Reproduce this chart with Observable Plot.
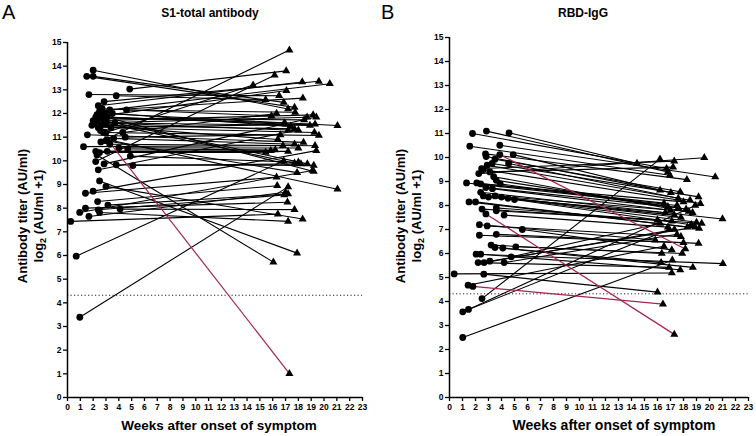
<!DOCTYPE html>
<html>
<head>
<meta charset="utf-8">
<script src="https://cdn.jsdelivr.net/npm/d3@7"></script>
<script src="https://cdn.jsdelivr.net/npm/@observablehq/plot@0.6"></script>
<style>
  html, body { margin: 0; padding: 0; background: #fff; }
  #wrap { display: flex; width: 756px; height: 436px; }
  svg { display: block; }
</style>
</head>
<body>
<div id="wrap"></div>
<script>
// ---------- Panel A: S1-total antibody ----------
const s1StartWeek  = [2.0,1.5,2.0,1.67,3.8,4.85,2.4,2.85,2.5,2.7,3.3,4.6,2.3,2.1,2.5,2.9,2.4,3.1,3.5,2.6,3.0,2.2,3.4,2.8,3.0,1.55,3.6,1.25,3.3,3.0,4.0,2.2,2.5,3.1,4.7,2.6,2.2,2.3,0.68,0.96,4.9,2.85,3.8,5.1,2.3,2.5,3.0,1.4,2.0,2.35,3.15,4.1,1.4,0.95,2.4,2.5,0.25,1.67,2.57,4.3,3.7,4.5,2.7,1.9,2.4,2.85,3.1,2.0];
const s1StartTiter = [13.83,13.57,13.57,12.8,12.75,13.03,12.33,12.5,12.1,11.9,12.15,12.15,11.7,11.6,11.8,12.0,11.4,11.85,12.0,11.5,11.6,11.85,11.4,11.2,11.2,11.1,10.95,10.6,10.7,10.85,10.55,10.4,10.35,10.4,10.5,10.8,9.97,10.25,5.97,3.39,10.2,11.7,9.83,9.8,11.95,9.15,8.92,8.63,8.72,8.28,8.13,7.96,8.0,7.82,7.93,7.82,7.44,7.65,11.28,11.2,11.6,11.0,12.2,11.5,9.62,9.87,10.9,11.7];
const s1EndWeek    = [17.2,17.7,16.86,16.5,15.45,17.05,18.3,19.6,20.45,17.07,18.35,17.75,19.15,18.68,18.45,21.05,19.3,17.0,17.4,17.7,17.2,16.9,19.25,19.6,14.47,18.4,17.7,16.8,19.3,17.9,18.0,17.2,15.45,15.85,16.2,17.3,16.15,16.05,16.86,17.2,18.0,18.7,19.2,18.2,19.2,17.9,18.33,16.3,19.4,16.35,17.2,17.7,17.15,19.1,16.9,17.2,16.4,17.0,17.3,16.3,18.9,16.6,15.9,16.4,18.0,19.4,21.05,17.7];
const s1EndTiter   = [12.19,12.26,12.47,12.75,12.58,13.8,13.33,13.36,13.26,12.97,12.65,12.05,11.94,11.84,11.73,11.49,11.55,11.55,11.45,11.35,11.3,11.6,11.2,11.07,13.2,10.78,10.7,10.64,10.64,9.5,10.54,10.4,10.36,10.43,10.46,14.68,13.62,5.72,10.0,8.9,9.94,9.87,9.81,9.87,9.55,6.1,7.54,9.31,10.43,8.95,8.6,7.94,8.25,9.59,8.56,7.44,7.75,8.67,1.01,12.0,11.5,11.1,11.9,10.9,11.3,11.85,8.8,9.9];
const s1Red = [58];

// ---------- Panel B: RBD-IgG ----------
const rbdStartWeek  = [1.77,2.84,4.58,1.56,3.87,2.77,2.82,4.9,3.5,3.28,2.9,2.6,2.47,2.25,4.55,1.31,2.1,2.4,2.8,3.3,3.6,2.4,2.6,3.0,3.5,4.0,4.5,5.0,1.5,2.0,2.5,3.6,3.6,4.2,2.3,2.9,2.3,3.6,5.6,3.2,3.5,4.1,5.1,2.05,2.4,2.2,2.66,3.1,4.2,4.75,0.36,2.64,1.8,1.43,2.5,1.46,1.02,1.02,2.8,3.87,3.1,3.4,3.9];
const rbdStartTiter = [11.0,11.1,11.03,10.47,10.51,10.15,10.04,10.12,9.93,9.75,9.68,9.5,9.54,9.33,9.75,8.94,8.94,8.9,8.75,8.7,9.05,8.55,8.4,8.35,8.4,8.35,8.3,8.25,8.15,8.15,7.85,7.9,7.78,7.6,7.2,7.15,6.76,6.8,7.0,6.35,6.25,6.23,6.28,5.97,5.97,5.62,5.62,5.68,5.62,5.86,5.15,5.14,4.63,4.68,4.12,3.67,3.57,2.5,7.65,10.12,9.4,9.2,8.9];
const rbdEndWeek    = [16.7,16.8,14.42,16.95,20.44,18.26,16.2,17.03,17.75,19.16,18.5,19.3,17.29,19.6,17.6,17.5,16.5,18.0,16.8,17.0,18.2,21.0,17.3,16.6,18.4,17.8,19.0,18.6,19.2,18.3,16.0,19.4,17.1,16.8,15.83,17.8,18.0,19.16,17.1,16.33,18.72,16.28,17.9,21.03,17.75,16.9,17.3,18.9,17.5,16.2,17.1,16.0,16.42,16.5,16.19,18.9,16.9,17.14,17.29,18.14,17.2,18.7,17.6];
const rbdEndTiter   = [9.54,9.4,9.75,9.26,9.19,9.08,8.64,8.53,8.57,8.36,8.22,8.08,9.85,9.99,8.3,8.0,8.1,8.15,7.95,7.8,7.85,7.44,7.6,7.7,7.75,7.5,7.3,7.2,7.05,7.1,7.4,7.25,7.35,7.1,6.56,6.7,6.45,6.42,6.15,6.0,5.42,5.62,6.0,5.58,5.32,5.42,7.0,7.1,6.8,7.25,5.19,4.39,3.89,6.3,9.93,8.0,7.0,5.72,2.63,6.19,9.6,7.7,7.9];
const rbdRed = [52, 58, 59];

// ---------- axes ----------
const weekTicks  = d3.range(0, 24);
const titerTicks = d3.range(0, 16);
const cutoff = 4.32;

const panels = [
  {letter: "A", title: "S1-total antibody", sw: s1StartWeek, st: s1StartTiter, ew: s1EndWeek, et: s1EndTiter, red: s1Red,
   m: {l: 67, r: 16, t: 42, b: 39}, titleX: 210, letterX: 2, yl1: 23, yl2: 39, xlX: 219, xlSize: 13.5},
  {letter: "B", title: "RBD-IgG", sw: rbdStartWeek, st: rbdStartTiter, ew: rbdEndWeek, et: rbdEndTiter, red: rbdRed,
   m: {l: 71, r: 8, t: 37, b: 39}, titleX: 205, letterX: 3, yl1: 23, yl2: 39, xlX: 236, xlSize: 14}
];

const font = "'Liberation Sans', Arial, Helvetica, sans-serif";
const wrap = document.getElementById("wrap");

for (const p of panels) {
  const rows = p.sw.map((w, i) => ({w0: w, t0: p.st[i], w1: p.ew[i], t1: p.et[i], red: p.red.includes(i)}));
  const chart = Plot.plot({
    width: 378, height: 436,
    marginLeft: p.m.l, marginRight: p.m.r, marginTop: p.m.t, marginBottom: p.m.b,
    style: {fontFamily: font, fontSize: "8.5px", fontWeight: "bold", color: "black", background: "white"},
    x: {domain: [0, 23]},
    y: {domain: [0, 15]},
    marks: [
      Plot.axisX({ticks: weekTicks, tickFormat: d => d, tickSize: 4, tickPadding: 2, label: null, strokeWidth: 1.3}),
      Plot.axisY({ticks: titerTicks, tickFormat: d => d, tickSize: 4, tickPadding: 2, label: null, strokeWidth: 1.3}),
      Plot.ruleY([cutoff], {stroke: "#222", strokeWidth: 1, strokeDasharray: "1.2,2.3"}),
      Plot.link(rows.filter(d => !d.red), {x1: "w0", y1: "t0", x2: "w1", y2: "t1", stroke: "black", strokeWidth: 1.1}),
      Plot.link(rows.filter(d => d.red), {x1: "w0", y1: "t0", x2: "w1", y2: "t1", stroke: "#a3264f", strokeWidth: 1.2}),
      Plot.dot(rows, {x: "w0", y: "t0", symbol: "circle", r: 3.4, fill: "black", stroke: "none"}),
      Plot.dot(rows, {x: "w1", y: "t1", symbol: "triangle", r: 3.0, fill: "black", stroke: "none"}),
      Plot.ruleX([0], {stroke: "black", strokeWidth: 1.5}),
      Plot.ruleY([0], {stroke: "black", strokeWidth: 1.5})
    ]
  });
  const svg = d3.select(chart);
  svg.append("text").attr("x", p.letterX).attr("y", 19).attr("text-anchor", "start")
    .attr("font-family", font).attr("font-size", 20).attr("font-weight", "normal").attr("fill", "black").text(p.letter);
  svg.append("text").attr("x", p.titleX).attr("y", 17).attr("text-anchor", "middle")
    .attr("font-family", font).attr("font-size", 12).attr("font-weight", "bold").attr("fill", "black").text(p.title);
  svg.append("text").attr("x", p.xlX).attr("y", 430).attr("text-anchor", "middle")
    .attr("font-family", font).attr("font-size", p.xlSize).attr("font-weight", "bold").attr("fill", "black")
    .text("Weeks after onset of symptom");
  const cy = 216;
  svg.append("text").attr("transform", `translate(${p.yl1 + 4},${cy}) rotate(-90)`).attr("text-anchor", "middle")
    .attr("font-family", font).attr("font-size", 13).attr("font-weight", "bold").attr("fill", "black")
    .text("Antibody titer (AU/ml)");
  const t2 = svg.append("text").attr("transform", `translate(${p.yl2 + 4},${cy}) rotate(-90)`).attr("text-anchor", "middle")
    .attr("font-family", font).attr("font-size", 13).attr("font-weight", "bold").attr("fill", "black");
  t2.append("tspan").text("log");
  t2.append("tspan").attr("font-size", 9).attr("dy", 3).text("2");
  t2.append("tspan").attr("dy", -3).text(" (AU/ml +1)");
  wrap.appendChild(chart);
}
</script>
</body>
</html>
